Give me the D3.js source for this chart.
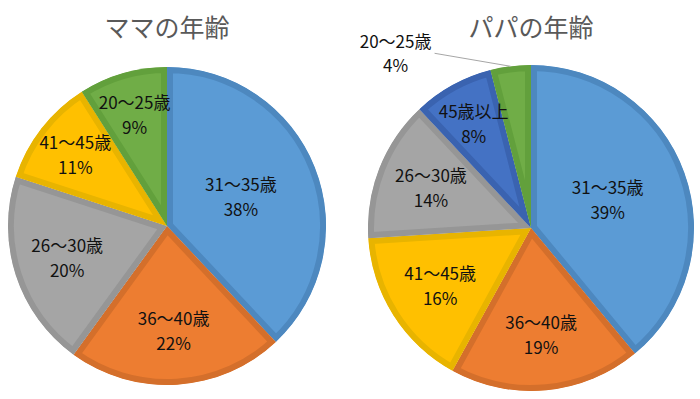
<!DOCTYPE html>
<html>
<head>
<meta charset="utf-8">
<script src="https://cdn.jsdelivr.net/npm/d3@7"></script>
<style>
  body { margin: 0; background: #fff; }
  svg { display: block; }
  .title { font-family: "Noto Sans CJK JP", sans-serif; fill: #595959; font-size: 25px; }
  .lbl { font-family: "Noto Sans CJK JP", sans-serif; fill: #111; font-size: 17px; }
</style>
</head>
<body>
<div id="chart"></div>
<script>
// data
var mamaLabels = ["31～35歳", "36～40歳", "26～30歳", "41～45歳", "20～25歳"];
var mamaValues = [38, 22, 20, 11, 9];
var papaLabels = ["31～35歳", "36～40歳", "41～45歳", "26～30歳", "45歳以上", "20～25歳"];
var papaValues = [39, 19, 16, 14, 8, 4];
var titles = ["ママの年齢", "パパの年齢"];

var categories = ["31～35歳", "36～40歳", "26～30歳", "41～45歳", "20～25歳", "45歳以上"];
var fill = d3.scaleOrdinal().domain(categories)
  .range(["#5b9bd5", "#ed7d31", "#a5a5a5", "#ffc000", "#70ad47", "#4472c4"]);
var edge = d3.scaleOrdinal().domain(categories)
  .range(["#4d88bf", "#d46f2b", "#969696", "#e8b400", "#62a03c", "#3a63b0"]);

var W = 700, H = 399;
var svg = d3.select("#chart").append("svg")
  .attr("width", W).attr("height", H);

var defs = svg.append("defs");

// where the label sits along the radius (big slices pull in, thin ones push out)
function labelFactor(v){
  if (v > 30) return 0.5;
  if (v <= 12) return 0.73;
  return 0.66;
}

function drawPie(labels, values, title, cx, cy, r, idx){
  var data = labels.map(function(l, i){ return {label: l, value: values[i]}; });
  var pie = d3.pie().sort(null).value(function(d){ return d.value; });
  var arc = d3.arc().innerRadius(0).outerRadius(r);
  var arcs = pie(data);

  svg.append("text")
    .attr("class", "title")
    .attr("x", cx).attr("y", 37)
    .attr("text-anchor", "middle")
    .text(title);

  var g = svg.append("g").attr("transform", "translate(" + cx + "," + cy + ")");

  // each slice: fill + darker inner border (stroke clipped to the slice)
  arcs.forEach(function(a, i){
    var id = "clip" + idx + "_" + i;
    defs.append("clipPath").attr("id", id)
      .append("path").attr("d", arc(a));
    g.append("path")
      .attr("d", arc(a))
      .attr("fill", fill(a.data.label))
      .attr("stroke", edge(a.data.label))
      .attr("stroke-width", 12)
      .attr("stroke-linejoin", "miter")
      .attr("clip-path", "url(#" + id + ")");
  });

  arcs.forEach(function(a){
    var pct = a.data.value + "%";
    if (a.data.value < 5) {
      // small slice: label outside with leader line
      var mid = (a.startAngle + a.endAngle) / 2;
      var px = Math.sin(mid) * r, py = -Math.cos(mid) * r;
      var tx = px - 76, ty = py - 13;
      g.append("line")
        .attr("x1", px).attr("y1", py)
        .attr("x2", tx).attr("y2", ty)
        .attr("stroke", "#a6a6a6").attr("stroke-width", 1);
      var t = g.append("text").attr("class", "lbl").attr("text-anchor", "middle");
      t.append("tspan").attr("x", tx - 39).attr("y", ty - 5).text(a.data.label);
      t.append("tspan").attr("x", tx - 39).attr("y", ty + 19).text(pct);
    } else {
      var k = labelFactor(a.data.value) * r;
      var c = d3.arc().innerRadius(k).outerRadius(k).centroid(a);
      var t2 = g.append("text").attr("class", "lbl").attr("text-anchor", "middle");
      t2.append("tspan").attr("x", c[0]).attr("y", c[1] - 6).text(a.data.label);
      t2.append("tspan").attr("x", c[0]).attr("y", c[1] + 19).text(pct);
    }
  });
}

drawPie(mamaLabels, mamaValues, titles[0], 167, 226, 159, 0);
drawPie(papaLabels, papaValues, titles[1], 531, 228, 163, 1);
</script>
</body>
</html>
